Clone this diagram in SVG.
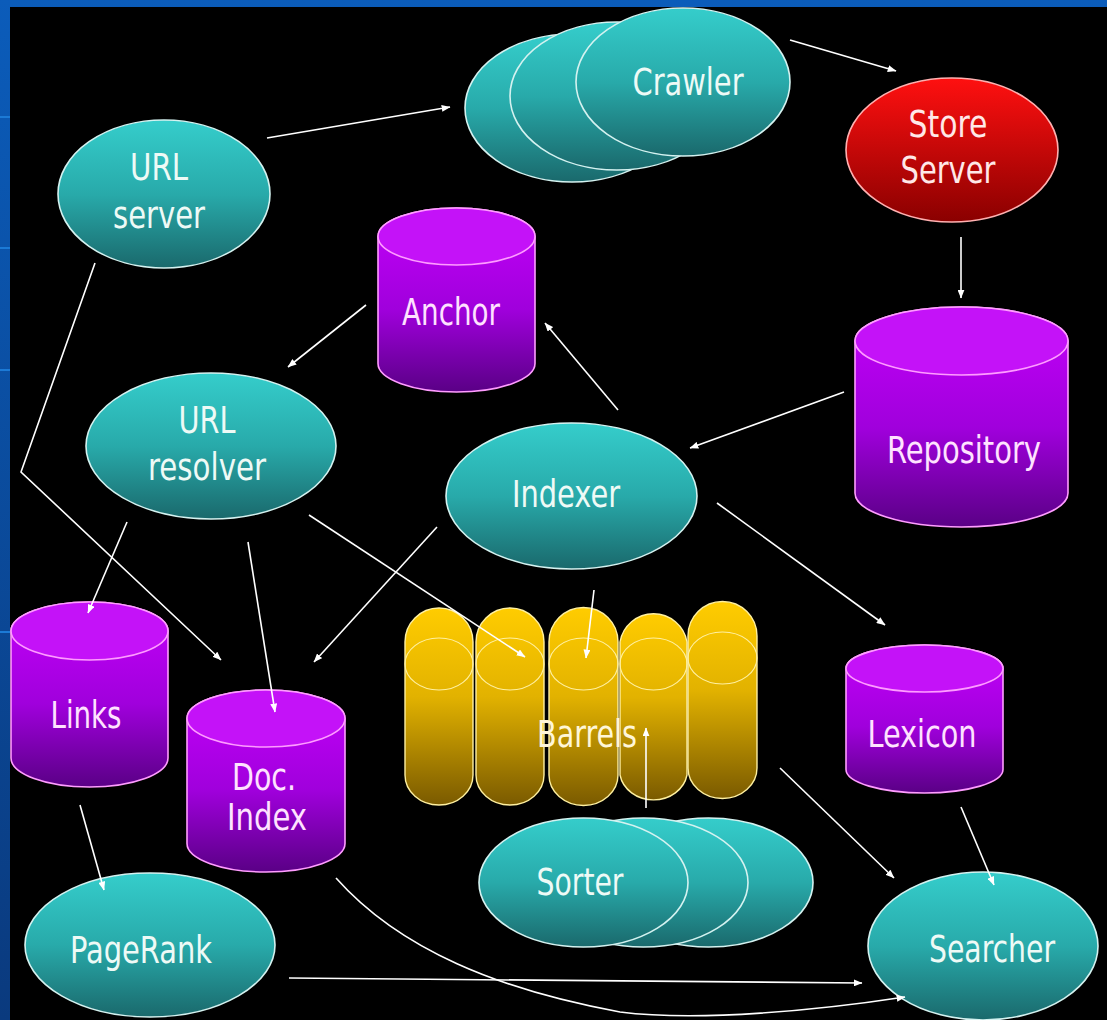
<svg xmlns="http://www.w3.org/2000/svg" width="1107" height="1020" viewBox="0 0 1107 1020">
  <defs>
    <linearGradient id="frame" x1="0" y1="0" x2="0" y2="1">
      <stop offset="0" stop-color="#0b5cba"/>
      <stop offset="1" stop-color="#0a3a7e"/>
    </linearGradient>
    <linearGradient id="teal" x1="0" y1="0" x2="0" y2="1">
      <stop offset="0" stop-color="#35cdcb"/>
      <stop offset="0.5" stop-color="#28aaaa"/>
      <stop offset="1" stop-color="#1a696c"/>
    </linearGradient>
    <linearGradient id="red" x1="0" y1="0" x2="0" y2="1">
      <stop offset="0" stop-color="#ff1010"/>
      <stop offset="1" stop-color="#8a0000"/>
    </linearGradient>
    <linearGradient id="purple" x1="0" y1="0" x2="0" y2="1">
      <stop offset="0" stop-color="#c400fa"/>
      <stop offset="0.55" stop-color="#a000dc"/>
      <stop offset="1" stop-color="#5a0086"/>
    </linearGradient>
    <linearGradient id="gold" x1="0" y1="0" x2="0" y2="1">
      <stop offset="0" stop-color="#ffcc00"/>
      <stop offset="0.45" stop-color="#e2b200"/>
      <stop offset="1" stop-color="#7a5a00"/>
    </linearGradient>
    <marker id="arrow" viewBox="0 0 10 8" refX="9.5" refY="4" markerWidth="9" markerHeight="7" markerUnits="userSpaceOnUse" orient="auto">
      <path d="M0,0 L10,4 L0,8 Z" fill="#ffffff"/>
    </marker>
    <style>
      .oval { fill: url(#teal); stroke: #d4f2f0; stroke-width: 1.6; }
      .store { fill: url(#red); stroke: #ffb0b0; stroke-width: 1.6; }
      .body { fill: url(#purple); stroke: #ff9cff; stroke-width: 1.6; }
      .lid { fill: #c412f8; stroke: #ff9cff; stroke-width: 1.6; }
      .barrel { fill: url(#gold); stroke: #fff0a0; stroke-width: 1.4; }
      .ring { fill: none; stroke: #fff0a0; stroke-width: 1.2; }
      .lbl { font-family: "DejaVu Sans Condensed", "DejaVu Sans", sans-serif; font-size: 37px; text-anchor: middle; fill: #eefaf6; }
      .plbl { fill: #ffe2ff; }
      .rlbl { fill: #ffe8e8; }
      .blbl { fill: #fff6d8; }
      .wire { fill: none; stroke: #ffffff; stroke-width: 1.6; marker-end: url(#arrow); }
    </style>
  </defs>

  <!-- slide frame -->
  <rect x="0" y="0" width="1107" height="1020" fill="url(#frame)"/>
  <g fill="#1c7ad6">
    <rect x="0" y="116" width="10" height="2"/>
    <rect x="0" y="247" width="10" height="2"/>
    <rect x="0" y="369" width="10" height="2"/>
    <rect x="0" y="631" width="10" height="2"/>
  </g>
  <rect x="10" y="7" width="1097" height="1013" fill="#000000"/>

  <!-- URL server -->
  <g id="url-server">
    <ellipse class="oval" cx="164" cy="194" rx="106" ry="74"/>
    <text class="lbl" x="159" y="180" textLength="58" lengthAdjust="spacingAndGlyphs">URL</text>
    <text class="lbl" x="159" y="228" textLength="92" lengthAdjust="spacingAndGlyphs">server</text>
  </g>

  <!-- Crawler (stack of three) -->
  <g id="crawler">
    <ellipse class="oval" cx="572" cy="108" rx="107" ry="74"/>
    <ellipse class="oval" cx="617" cy="96" rx="107" ry="74"/>
    <ellipse class="oval" cx="683" cy="82" rx="107" ry="74"/>
    <text class="lbl" x="688" y="95" textLength="111" lengthAdjust="spacingAndGlyphs">Crawler</text>
  </g>

  <!-- Store Server -->
  <g id="store-server">
    <ellipse class="store" cx="952" cy="150" rx="106" ry="72"/>
    <text class="lbl rlbl" x="948" y="137" textLength="79" lengthAdjust="spacingAndGlyphs">Store</text>
    <text class="lbl rlbl" x="948" y="183" textLength="95" lengthAdjust="spacingAndGlyphs">Server</text>
  </g>

  <!-- Anchor -->
  <g id="anchor">
    <path class="body" d="M378,236.5 V363.5 A78.5,28.5 0 0 0 535,363.5 V236.5 A78.5,28.5 0 0 0 378,236.5 Z"/>
    <ellipse class="lid" cx="456.5" cy="236.5" rx="78.5" ry="28.5"/>
    <text class="lbl plbl" x="451" y="325" textLength="98" lengthAdjust="spacingAndGlyphs">Anchor</text>
  </g>

  <!-- Repository -->
  <g id="repository">
    <path class="body" d="M855,341 V493 A106.5,34 0 0 0 1068,493 V341 A106.5,34 0 0 0 855,341 Z"/>
    <ellipse class="lid" cx="961.5" cy="341" rx="106.5" ry="34"/>
    <text class="lbl plbl" x="964" y="463" textLength="154" lengthAdjust="spacingAndGlyphs">Repository</text>
  </g>

  <!-- URL resolver -->
  <g id="url-resolver">
    <ellipse class="oval" cx="211" cy="446" rx="125" ry="73"/>
    <text class="lbl" x="207" y="433" textLength="57" lengthAdjust="spacingAndGlyphs">URL</text>
    <text class="lbl" x="207" y="480" textLength="118" lengthAdjust="spacingAndGlyphs">resolver</text>
  </g>

  <!-- Indexer -->
  <g id="indexer">
    <ellipse class="oval" cx="571.5" cy="496" rx="125.5" ry="73"/>
    <text class="lbl" x="566" y="507" textLength="108" lengthAdjust="spacingAndGlyphs">Indexer</text>
  </g>

  <!-- Links -->
  <g id="links">
    <path class="body" d="M11,631 V758 A78.5,29 0 0 0 168,758 V631 A78.5,29 0 0 0 11,631 Z"/>
    <ellipse class="lid" cx="89.5" cy="631" rx="78.5" ry="29"/>
    <text class="lbl plbl" x="86" y="728" textLength="71" lengthAdjust="spacingAndGlyphs">Links</text>
  </g>

  <!-- Doc. Index -->
  <g id="doc-index">
    <path class="body" d="M187,718.5 V843.5 A79,28.5 0 0 0 345,843.5 V718.5 A79,28.5 0 0 0 187,718.5 Z"/>
    <ellipse class="lid" cx="266" cy="718.5" rx="79" ry="28.5"/>
    <text class="lbl plbl" x="264" y="790" textLength="64" lengthAdjust="spacingAndGlyphs">Doc.</text>
    <text class="lbl plbl" x="267" y="830" textLength="80" lengthAdjust="spacingAndGlyphs">Index</text>
  </g>

  <!-- Barrels -->
  <g id="barrels">
    <path class="barrel" d="M405,642 A34,34 0 0 1 473,642 V775 A34,30 0 0 1 405,775 Z"/>
    <ellipse class="ring" cx="439" cy="664" rx="34" ry="26"/>
    <path class="barrel" d="M476,642 A34,34 0 0 1 544,642 V775 A34,30 0 0 1 476,775 Z"/>
    <ellipse class="ring" cx="510" cy="664" rx="34" ry="26"/>
    <path class="barrel" d="M549,642 A34,34 0 0 1 618,642 V775 A34,30 0 0 1 549,775 Z"/>
    <ellipse class="ring" cx="583.5" cy="664" rx="34.5" ry="26"/>
    <path class="barrel" d="M620,642 A34,34 0 0 1 687,642 V775 A34,30 0 0 1 620,775 Z"/>
    <ellipse class="ring" cx="653.5" cy="664" rx="33.5" ry="26"/>
    <path class="barrel" d="M688,636 A34,34 0 0 1 757,636 V768 A34,30 0 0 1 688,768 Z"/>
    <ellipse class="ring" cx="722.5" cy="658" rx="34.5" ry="26"/>
    <text class="lbl blbl" x="587" y="747" textLength="100" lengthAdjust="spacingAndGlyphs">Barrels</text>
  </g>

  <!-- Lexicon -->
  <g id="lexicon">
    <path class="body" d="M846,668.5 V769.5 A78.5,23.5 0 0 0 1003,769.5 V668.5 A78.5,23.5 0 0 0 846,668.5 Z"/>
    <ellipse class="lid" cx="924.5" cy="668.5" rx="78.5" ry="23.5"/>
    <text class="lbl plbl" x="922" y="747" textLength="109" lengthAdjust="spacingAndGlyphs">Lexicon</text>
  </g>

  <!-- Sorter (stack of three) -->
  <g id="sorter">
    <ellipse class="oval" cx="708.5" cy="882.5" rx="104.5" ry="64.5"/>
    <ellipse class="oval" cx="643.5" cy="882.5" rx="104.5" ry="64.5"/>
    <ellipse class="oval" cx="583.5" cy="882.5" rx="104.5" ry="64.5"/>
    <text class="lbl" x="580" y="895" textLength="87" lengthAdjust="spacingAndGlyphs">Sorter</text>
  </g>

  <!-- PageRank -->
  <g id="pagerank">
    <ellipse class="oval" cx="150" cy="945" rx="125" ry="72"/>
    <text class="lbl" x="141" y="963" textLength="142" lengthAdjust="spacingAndGlyphs">PageRank</text>
  </g>

  <!-- Searcher -->
  <g id="searcher">
    <ellipse class="oval" cx="983" cy="946" rx="115" ry="74"/>
    <text class="lbl" x="992" y="962" textLength="126" lengthAdjust="spacingAndGlyphs">Searcher</text>
  </g>

  <!-- data flow -->
  <g id="connectors">
    <path class="wire" d="M267,138 L450,107"/>
    <path class="wire" d="M790,40 L896,71"/>
    <path class="wire" d="M961,237 L961,298"/>
    <path class="wire" d="M844,392 L690,448"/>
    <path class="wire" d="M618,410 L545,323"/>
    <path class="wire" d="M366,305 L288,367"/>
    <path class="wire" d="M95,263 L21,472 L221,660"/>
    <path class="wire" d="M127,522 L88,613"/>
    <path class="wire" d="M248,542 L275,712"/>
    <path class="wire" d="M309,515 L525,657"/>
    <path class="wire" d="M437,527 L314,662"/>
    <path class="wire" d="M594,590 L586,658"/>
    <path class="wire" d="M717,503 L885,625"/>
    <path class="wire" d="M80,805 L104,890"/>
    <path class="wire" d="M646,808 L646,728"/>
    <path class="wire" d="M780,768 L894,878"/>
    <path class="wire" d="M961,807 L994,885"/>
    <path class="wire" d="M289,978 L862,983"/>
    <path class="wire" d="M336,878 C400,950 500,990 620,1012 C700,1022 820,1010 905,997"/>
  </g>
</svg>
